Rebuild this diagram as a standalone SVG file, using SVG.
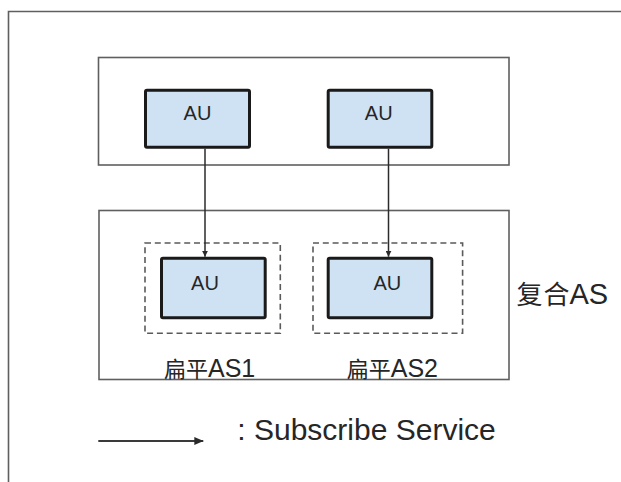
<svg xmlns="http://www.w3.org/2000/svg" width="621" height="482" viewBox="0 0 621 482">
  <defs>
    <style>
      .frame { fill: none; stroke: #5f5f5f; stroke-width: 1.6; }
      .group { fill: none; stroke: #5f5f5f; stroke-width: 1.6; }
      .flat { fill: none; stroke: #5a5a5a; stroke-width: 1.6; stroke-dasharray: 6 3.8; }
      .au { fill: #cfe2f3; stroke: #1a1a1a; stroke-width: 3; }
      .label { font-family: "Liberation Sans", Arial, "Noto Sans CJK SC", sans-serif; fill: #262626; }
      .cjk { font-family: "Noto Sans CJK SC", "Liberation Sans", sans-serif; }
      .edge { fill: none; stroke: #2b2b2b; stroke-width: 1.5; }
      .legend-edge { fill: none; stroke: #3a3a3a; stroke-width: 2; }
    </style>
    <marker id="arrow-small" viewBox="0 0 6 6" refX="6" refY="3" markerWidth="6" markerHeight="6" markerUnits="userSpaceOnUse" orient="auto">
      <path d="M0,0 L6,3 L0,6 Z" fill="#2b2b2b"/>
    </marker>
    <marker id="arrow-legend" viewBox="0 0 9 8" refX="9" refY="4" markerWidth="9" markerHeight="8" markerUnits="userSpaceOnUse" orient="auto">
      <path d="M0,0 L9,4 L0,8 Z" fill="#2a2a2a"/>
    </marker>
  </defs>

  <rect width="621" height="482" fill="#ffffff"/>

  <!-- outer frame, open to the right and bottom -->
  <path class="frame" d="M8.5,490 L8.5,11.5 L630,11.5"/>

  <!-- upper composite group -->
  <g id="upper-group">
    <rect class="group" x="98.5" y="57.5" width="410.5" height="107.5"/>
  </g>

  <!-- lower composite AS -->
  <g id="composite-as">
    <rect class="group" x="99" y="210.5" width="410" height="169"/>
    <text class="label" x="516.5" y="303.5"><tspan class="cjk" font-size="26">复</tspan><tspan class="cjk" font-size="26" dx="1">合</tspan><tspan font-size="29">AS</tspan></text>
  </g>

  <g id="au-top-1">
    <rect class="au" x="145.5" y="90.2" width="104" height="57" rx="1.5"/>
    <text class="label" x="197.5" y="119.5" font-size="20" text-anchor="middle">AU</text>
  </g>

  <g id="au-top-2">
    <rect class="au" x="328.2" y="90.2" width="103.6" height="57" rx="1.5"/>
    <text class="label" x="378.7" y="119.5" font-size="20" text-anchor="middle">AU</text>
  </g>

  <g id="flat-as-1">
    <rect class="flat" x="145" y="243" width="135.3" height="90.3"/>
    <rect class="au" x="161.5" y="258.2" width="103.7" height="59.6" rx="1.5"/>
    <text class="label" x="205" y="290" font-size="20" text-anchor="middle">AU</text>
    <text class="label" x="164" y="376.5"><tspan class="cjk" font-size="22">扁平</tspan><tspan font-size="25">AS1</tspan></text>
  </g>

  <g id="flat-as-2">
    <rect class="flat" x="313" y="243" width="149.6" height="90.3"/>
    <rect class="au" x="328.2" y="258.2" width="103.6" height="59.6" rx="1.5"/>
    <text class="label" x="387.3" y="290" font-size="20" text-anchor="middle">AU</text>
    <text class="label" x="346.7" y="376.5"><tspan class="cjk" font-size="22">扁平</tspan><tspan font-size="25">AS2</tspan></text>
  </g>

  <!-- subscribe-service connectors -->
  <g id="connectors">
    <line class="edge" x1="205" y1="148.7" x2="205" y2="256.7" marker-end="url(#arrow-small)"/>
    <line class="edge" x1="388.5" y1="148.7" x2="388.5" y2="256.7" marker-end="url(#arrow-small)"/>
  </g>

  <!-- legend -->
  <g id="legend">
    <line class="legend-edge" x1="98.3" y1="441" x2="203.3" y2="441" marker-end="url(#arrow-legend)"/>
    <text class="label" x="237.3" y="439.5" font-size="30">: Subscribe Service</text>
  </g>
</svg>
